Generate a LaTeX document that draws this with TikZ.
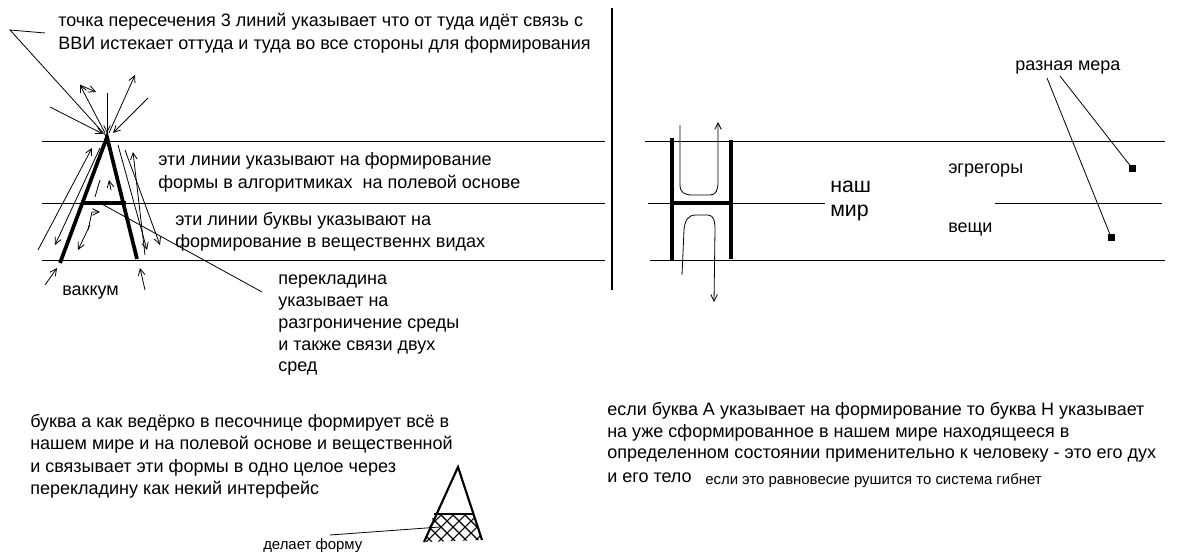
\documentclass[tikz,border=0pt]{standalone}
\usepackage{fontspec}
\setmainfont{Liberation Sans}
\usetikzlibrary{arrows.meta}
\begin{document}
\begin{tikzpicture}[x=0.75pt,y=-0.75pt,
  thin line/.style={line width=0.6pt},
  thick leg/.style={line width=2.8pt},
  arr/.style={line width=0.6pt,-{Straight Barb[length=5pt,width=5pt]}},
  txt/.style={anchor=west,inner sep=0pt,font=\fontsize{13.5}{15}\selectfont},
  small/.style={anchor=west,inner sep=0pt,font=\fontsize{11.2}{13}\selectfont}]
\useasboundingbox (0,0) rectangle (1200,552);
\fill[white] (0,0) rectangle (1200,552);
% left guide lines
\draw[thin line] (42,141) -- (605,141);
\draw[thin line] (42,203) -- (605,203);
\draw[thin line] (42,260) -- (605,260);
\draw[line width=1.5pt] (612,8) -- (612,290);
% A
\coordinate (apex) at (107,137);
\coordinate (lf) at (60,263);
\coordinate (rf) at (137,259);
\draw[thick leg] (lf) -- (apex) -- (rf);
\draw[thick leg] (84,203) -- (126,203);
% pointer lines
\coordinate (tl) at (10,30);
\draw[thin line] (45,33) -- (tl) -- (apex);
\draw[thin line] (100,203) -- (262,292);
% rays at apex
\draw[arr] (50,107) -- (103,134);
\draw[arr] (107,93) -- (107,133);
\draw[arr] (148,98) -- (113,133);
\draw[arr] (105,133) -- (80,85);
\draw[arr] (80,85) -- (96,92);
\draw[arr] (109,133) -- (135,75);
% arrows along legs
\draw[arr] (38,250) -- (92,148);
\draw[arr] (100,148) -- (55,245);
\draw[arr] (90,225) -- (78,250);
\draw[arr] (118,145) -- (147,250);
\draw[arr] (125,150) -- (160,245);
\draw[arr] (145,255) -- (133,152);
\draw[thin line] (95,197) -- (100,180);
\draw[arr] (111,190) -- (109,180);
\draw[arr] (88,230) -- (92,212) -- (100,212);
\draw[arr] (45,285) -- (57,268);
\draw[arr] (145,290) -- (140,268);
% left texts
\node[txt] (t1) at (58,22) {точка пересечения 3 линий указывает что от туда идёт связь с};
\node[txt] (t2) at (58,45) {ВВИ истекает оттуда и туда во все стороны для формирования};
\node[txt] at (158,161) {эти линии указывают на формирование};
\node[txt] at (158,184) {формы в алгоритмиках\ \ на полевой основе};
\node[txt] at (175,221) {эти линии буквы указывают на};
\node[txt] at (175,243) {формирование в вещественнх видах};
\node[txt] at (62,293) {ваккум};
\node[txt] at (278,282) {перекладина};
\node[txt] at (278,304) {указывает на};
\node[txt] at (278,326) {разгроничение среды};
\node[txt] at (278,348) {и также связи двух};
\node[txt] at (278,369) {сред};
\node[txt] at (30,423) {буква а как ведёрко в песочнице формирует всё в};
\node[txt] at (30,445) {нашем мире и на полевой основе и вещественной};
\node[txt] at (30,468) {и связывает эти формы в одно целое через};
\node[txt] at (30,490) {перекладину как некий интерфейс};
% small A with hatch
\begin{scope}
\clip (424,542) -- (434,514) -- (473,514) -- (482,540) -- cycle;
\foreach \d in {-60,-48,...,60} {
  \draw[line width=0.8pt] (448+\d,510) -- ++(35,35);
  \draw[line width=0.8pt] (458+\d,510) -- ++(-35,35);
}
\end{scope}
\draw[line width=1.6pt] (424,542) -- (458,467) -- (482,540);
\draw[line width=1.6pt] (434,514) -- (473,514);
\draw[thin line] (330,535) -- (440,527);
\node[small] at (263,546) {делает форму};
% right side
\draw[thin line] (645,141) -- (1165,141);
\draw[thin line] (648,203) -- (825,203);
\draw[thin line] (995,203) -- (1162,203);
\draw[thin line] (650,260) -- (1165,260);
\draw[thick leg] (672,138) -- (672,261);
\draw[thick leg] (731,140) -- (731,259);
\draw[thick leg] (672,203) -- (731,203);
\draw[arr] (680,125) -- (680,185) .. controls (680,192) and (684,195) .. (692,195) -- (710,195) .. controls (716,195) and (718,190) .. (718,182) -- (718,122);
\draw[arr] (682,275) -- (684,230) .. controls (685,220) and (688,215) .. (696,215) -- (708,215) .. controls (714,215) and (715,222) .. (715,230) -- (714,302);
\node[txt,font=\fontsize{16}{18}\selectfont] at (830,187) {наш};
\node[txt,font=\fontsize{16}{18}\selectfont] at (830,213) {мир};
\node[txt] at (948,171) {эгрегоры};
\node[txt] at (948,229) {вещи};
\node[txt] (mera) at (1015,68) {разная мера};
\fill (1129,165) rectangle (1136,172);
\fill (1108,234) rectangle (1115,241);
\draw[thin line] (1060,76) -- (1132,168);
\draw[thin line] (1047,78) -- (1111,237);
\node[txt] at (607,411) {если буква А указывает на формирование то буква Н указывает};
\node[txt] at (607,433) {на уже сформированное в нашем мире находящееся в};
\node[txt] at (607,456) {определенном состоянии применительно к человеку - это его дух};
\node[txt] at (607,478) {и его тело};
\node[small] at (705,481) {если это равновесие рушится то система гибнет};
\end{tikzpicture}
\end{document}
